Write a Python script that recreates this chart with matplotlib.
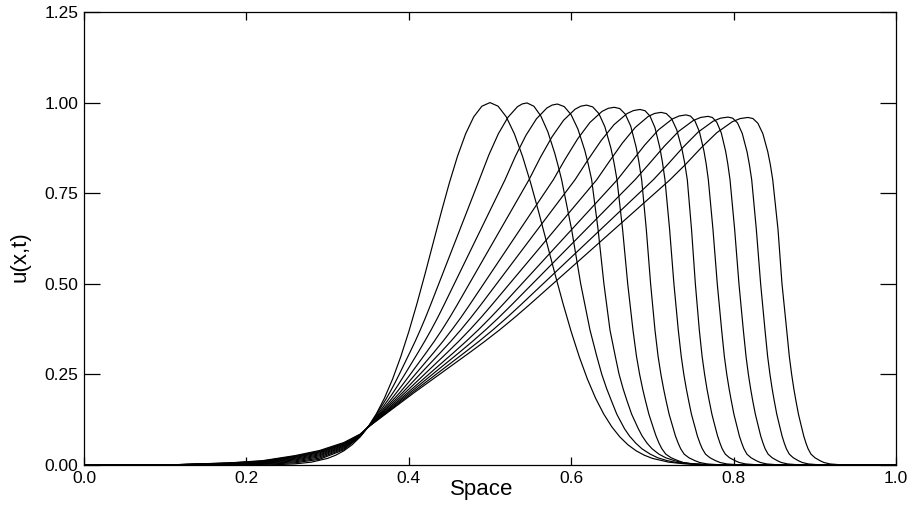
import matplotlib
matplotlib.use("Agg")
import matplotlib.pyplot as plt

# profiles u(x,t), one per output time
space_1 = [0.0, 0.10, 0.18, 0.22, 0.24, 0.26, 0.28, 0.30, 0.31, 0.32, 0.33, 0.34, 0.35, 0.36, 0.37, 0.38, 0.39, 0.40, 0.41, 0.42, 0.43, 0.44, 0.45, 0.46, 0.47, 0.48, 0.49, 0.50,
           0.51, 0.52, 0.53, 0.54, 0.55, 0.56, 0.57, 0.58, 0.59, 0.60, 0.61, 0.62, 0.63, 0.64, 0.65, 0.66, 0.67, 0.68, 0.69, 0.70, 0.72, 0.74, 0.76, 0.80, 1.0]
u_1 = [0.0, 0.0, 0.0, 0.0004, 0.0012, 0.0032, 0.0079, 0.0183, 0.0271, 0.0392, 0.0556, 0.0773, 0.1054, 0.1409, 0.1845, 0.2369, 0.2982, 0.3679, 0.4449, 0.5273, 0.6126, 0.6977, 0.7788, 0.8521, 0.9139, 0.9608, 0.9900, 1.0,
       0.9900, 0.9608, 0.9139, 0.8521, 0.7788, 0.6977, 0.6126, 0.5273, 0.4449, 0.3679, 0.2982, 0.2369, 0.1845, 0.1409, 0.1054, 0.0773, 0.0556, 0.0392, 0.0271, 0.0183, 0.0079, 0.0032, 0.0012, 0.0001, 0.0]

space_2 = [0.0, 0.10, 0.18, 0.22, 0.26, 0.29, 0.32, 0.34, 0.352, 0.3659, 0.3716, 0.3772, 0.3827, 0.3882, 0.4012, 0.4079, 0.4143, 0.4205, 0.4265, 0.4543, 0.4868,
           0.4986, 0.5103, 0.5221, 0.5338, 0.5397, 0.5456, 0.5541, 0.5626, 0.5712, 0.5797, 0.5839, 0.5882, 0.6005, 0.6117, 0.6232,
           0.6315, 0.6377, 0.6438, 0.6494, 0.6562, 0.6657, 0.6718, 0.6797, 0.6870, 0.6973, 0.7066, 0.7183, 0.7295, 0.747, 0.768, 0.82, 1.0]
u_2 = [0.0, 0.0, 0.0008, 0.0019, 0.0061, 0.0157, 0.0420, 0.0783, 0.1115, 0.16, 0.1806, 0.2025, 0.2256, 0.25, 0.31, 0.3414, 0.3735, 0.4064, 0.44, 0.60, 0.787,
       0.8556, 0.9140, 0.9593, 0.9886, 0.9963, 0.999, 0.9898, 0.9630, 0.9196, 0.8606, 0.8256, 0.787, 0.65, 0.50, 0.372,
       0.30, 0.25, 0.21, 0.178, 0.14, 0.10, 0.08, 0.06, 0.045, 0.03, 0.02, 0.012, 0.007, 0.003, 0.001, 0.0, 0.0]

space_3 = [0.0, 0.10, 0.18, 0.22, 0.26, 0.29, 0.32, 0.34, 0.352, 0.3682, 0.3748, 0.3815, 0.3882, 0.3950, 0.4113, 0.4196, 0.4277, 0.4355, 0.4430, 0.4778, 0.5185,
           0.5314, 0.5443, 0.5572, 0.5701, 0.5766, 0.583, 0.5914, 0.5999, 0.6083, 0.6168, 0.6210, 0.6252, 0.6331, 0.6403, 0.6478,
           0.6543, 0.6590, 0.6640, 0.6686, 0.6745, 0.6827, 0.6874, 0.6935, 0.6995, 0.7080, 0.7164, 0.7270, 0.7367, 0.752, 0.772, 0.81, 1.0]
u_3 = [0.0, 0.0, 0.0015, 0.0032, 0.0088, 0.0190, 0.0448, 0.0792, 0.1110, 0.16, 0.1806, 0.2025, 0.2256, 0.25, 0.31, 0.3414, 0.3735, 0.4064, 0.44, 0.60, 0.787,
       0.8524, 0.9097, 0.9552, 0.9852, 0.9932, 0.996, 0.9890, 0.9666, 0.9268, 0.8676, 0.8301, 0.787, 0.65, 0.50, 0.372,
       0.30, 0.25, 0.21, 0.178, 0.14, 0.10, 0.08, 0.06, 0.045, 0.03, 0.02, 0.012, 0.007, 0.003, 0.001, 0.0, 0.0]

space_4 = [0.0, 0.10, 0.18, 0.22, 0.26, 0.29, 0.32, 0.34, 0.352, 0.3705, 0.3781, 0.3858, 0.3937, 0.4018, 0.4214, 0.4314, 0.4410, 0.4502, 0.4591, 0.5001, 0.5480,
           0.5622, 0.5764, 0.5906, 0.6048, 0.6119, 0.619, 0.6265, 0.6340, 0.6414, 0.6489, 0.6527, 0.6564, 0.6633, 0.6696, 0.6761,
           0.6804, 0.6843, 0.6880, 0.6914, 0.6957, 0.7015, 0.7045, 0.7082, 0.7116, 0.7165, 0.7231, 0.7315, 0.7379, 0.7481, 0.7629, 0.7730, 1.0]
u_4 = [0.0, 0.0, 0.0022, 0.0046, 0.0115, 0.0223, 0.0475, 0.0801, 0.1105, 0.16, 0.1806, 0.2025, 0.2256, 0.25, 0.31, 0.3414, 0.3735, 0.4064, 0.44, 0.60, 0.787,
       0.8494, 0.9056, 0.9512, 0.9818, 0.9901, 0.993, 0.9881, 0.9699, 0.9337, 0.8743, 0.8345, 0.787, 0.65, 0.50, 0.372,
       0.30, 0.25, 0.21, 0.178, 0.14, 0.10, 0.08, 0.06, 0.045, 0.03, 0.02, 0.012, 0.007, 0.003, 0.001, 0.0, 0.0]

space_5 = [0.0, 0.10, 0.18, 0.22, 0.26, 0.29, 0.32, 0.34, 0.352, 0.3890, 0.4306, 0.4421, 0.4532, 0.4640, 0.4743, 0.5221, 0.5780,
           0.5930, 0.6080, 0.6230, 0.6380, 0.6455, 0.653, 0.6598, 0.6665, 0.6733, 0.6800, 0.6834, 0.6868, 0.6925, 0.6978, 0.7032,
           0.7070, 0.7105, 0.7138, 0.7168, 0.7206, 0.7258, 0.7284, 0.7318, 0.7348, 0.7391, 0.7450, 0.7524, 0.7582, 0.7672, 0.7804, 0.7894, 1.0]
u_5 = [0.0, 0.0, 0.0028, 0.0059, 0.0140, 0.0254, 0.0500, 0.0809, 0.1101, 0.20, 0.31, 0.3414, 0.3735, 0.4064, 0.44, 0.60, 0.787,
       0.8456, 0.9000, 0.9450, 0.9757, 0.9841, 0.987, 0.9835, 0.9684, 0.9352, 0.8769, 0.8363, 0.787, 0.65, 0.50, 0.372,
       0.30, 0.25, 0.21, 0.178, 0.14, 0.10, 0.08, 0.06, 0.045, 0.03, 0.02, 0.012, 0.007, 0.003, 0.001, 0.0, 0.0]

space_6 = [0.0, 0.10, 0.18, 0.22, 0.26, 0.29, 0.32, 0.34, 0.352, 0.3924, 0.4389, 0.4518, 0.4643, 0.4763, 0.4880, 0.5418, 0.6047,
           0.6207, 0.6367, 0.6527, 0.6687, 0.6767, 0.6847, 0.6909, 0.6970, 0.7032, 0.7093, 0.7124, 0.7155, 0.7212, 0.7265, 0.7319,
           0.7355, 0.7387, 0.7418, 0.7446, 0.7481, 0.7530, 0.7554, 0.7586, 0.7614, 0.7654, 0.7709, 0.7778, 0.7832, 0.7916, 0.8039, 0.8123, 1.0]
u_6 = [0.0, 0.0, 0.0034, 0.0070, 0.0163, 0.0281, 0.0523, 0.0817, 0.1097, 0.20, 0.31, 0.3414, 0.3735, 0.4064, 0.44, 0.60, 0.787,
       0.8422, 0.8947, 0.9390, 0.9696, 0.9780, 0.981, 0.9776, 0.9630, 0.9307, 0.8742, 0.8349, 0.787, 0.65, 0.50, 0.372,
       0.30, 0.25, 0.21, 0.178, 0.14, 0.10, 0.08, 0.06, 0.045, 0.03, 0.02, 0.012, 0.007, 0.003, 0.001, 0.0, 0.0]

space_7 = [0.0, 0.10, 0.18, 0.22, 0.26, 0.29, 0.32, 0.34, 0.352, 0.3957, 0.4472, 0.4615, 0.4753, 0.4887, 0.5016, 0.5615, 0.6314,
           0.6472, 0.6631, 0.6789, 0.6948, 0.7027, 0.7106, 0.7171, 0.7236, 0.7300, 0.7365, 0.7398, 0.7430, 0.7482, 0.7529, 0.7578,
           0.7612, 0.7643, 0.7672, 0.7699, 0.7733, 0.7779, 0.7803, 0.7833, 0.7859, 0.7898, 0.7950, 0.8017, 0.8068, 0.8148, 0.8266, 0.8346, 1.0]
u_7 = [0.0, 0.0, 0.0040, 0.0082, 0.0185, 0.0309, 0.0545, 0.0825, 0.1093, 0.20, 0.31, 0.3414, 0.3735, 0.4064, 0.44, 0.60, 0.787,
       0.8383, 0.8885, 0.9315, 0.9617, 0.9700, 0.973, 0.9697, 0.9557, 0.9248, 0.8706, 0.8329, 0.787, 0.65, 0.50, 0.372,
       0.30, 0.25, 0.21, 0.178, 0.14, 0.10, 0.08, 0.06, 0.045, 0.03, 0.02, 0.012, 0.007, 0.003, 0.001, 0.0, 0.0]

space_8 = [0.0, 0.10, 0.18, 0.22, 0.26, 0.29, 0.32, 0.34, 0.352, 0.3989, 0.4551, 0.4707, 0.4859, 0.5005, 0.5147, 0.5802, 0.6568,
           0.6737, 0.6906, 0.7076, 0.7245, 0.7329, 0.7414, 0.7469, 0.7524, 0.7579, 0.7634, 0.7662, 0.7689, 0.7746, 0.7799, 0.7853,
           0.7886, 0.7916, 0.7945, 0.7971, 0.8004, 0.8049, 0.8071, 0.8101, 0.8127, 0.8164, 0.8215, 0.8279, 0.8329, 0.8407, 0.8522, 0.8600, 1.0]
u_8 = [0.0, 0.0, 0.0046, 0.0093, 0.0207, 0.0335, 0.0567, 0.0832, 0.1089, 0.20, 0.31, 0.3414, 0.3735, 0.4064, 0.44, 0.60, 0.787,
       0.8349, 0.8830, 0.9250, 0.9547, 0.9630, 0.966, 0.9628, 0.9494, 0.9196, 0.8675, 0.8312, 0.787, 0.65, 0.50, 0.372,
       0.30, 0.25, 0.21, 0.178, 0.14, 0.10, 0.08, 0.06, 0.045, 0.03, 0.02, 0.012, 0.007, 0.003, 0.001, 0.0, 0.0]

space_9 = [0.0, 0.10, 0.18, 0.22, 0.26, 0.29, 0.32, 0.34, 0.352, 0.4016, 0.4619, 0.4786, 0.4949, 0.5106, 0.5258, 0.5963, 0.6786,
           0.6966, 0.7146, 0.7325, 0.7505, 0.7595, 0.7685, 0.7739, 0.7793, 0.7848, 0.7902, 0.7929, 0.7956, 0.8013, 0.8066, 0.8120,
           0.8153, 0.8182, 0.8210, 0.8235, 0.8268, 0.8312, 0.8334, 0.8363, 0.8388, 0.8425, 0.8475, 0.8538, 0.8587, 0.8664, 0.8776, 0.8852, 1.0]
u_9 = [0.0, 0.0, 0.0051, 0.0102, 0.0225, 0.0357, 0.0585, 0.0838, 0.1086, 0.20, 0.31, 0.3414, 0.3735, 0.4064, 0.44, 0.60, 0.787,
       0.8326, 0.8795, 0.9210, 0.9507, 0.9590, 0.962, 0.9589, 0.9458, 0.9166, 0.8657, 0.8302, 0.787, 0.65, 0.50, 0.372,
       0.30, 0.25, 0.21, 0.178, 0.14, 0.10, 0.08, 0.06, 0.045, 0.03, 0.02, 0.012, 0.007, 0.003, 0.001, 0.0, 0.0]

space_10 = [0.0, 0.10, 0.18, 0.22, 0.26, 0.29, 0.32, 0.34, 0.352, 0.4043, 0.4686, 0.4865, 0.5039, 0.5207, 0.5370, 0.6127, 0.7011,
            0.7195, 0.7379, 0.7563, 0.7747, 0.7839, 0.7931, 0.7989, 0.8048, 0.8106, 0.8165, 0.8194, 0.8223, 0.8280, 0.8333, 0.8387,
            0.8419, 0.8448, 0.8475, 0.8500, 0.8532, 0.8575, 0.8597, 0.8625, 0.8650, 0.8686, 0.8735, 0.8797, 0.8845, 0.8920, 0.9030, 0.9105, 1.0]
u_10 = [0.0, 0.0, 0.0056, 0.0111, 0.0243, 0.0379, 0.0603, 0.0844, 0.1083, 0.20, 0.31, 0.3414, 0.3735, 0.4064, 0.44, 0.60, 0.787,
        0.8309, 0.8770, 0.9185, 0.9485, 0.9570, 0.960, 0.9570, 0.9439, 0.9152, 0.8648, 0.8297, 0.787, 0.65, 0.50, 0.372,
        0.30, 0.25, 0.21, 0.178, 0.14, 0.10, 0.08, 0.06, 0.045, 0.03, 0.02, 0.012, 0.007, 0.003, 0.001, 0.0, 0.0]

space_11 = [0.0, 0.10, 0.18, 0.22, 0.26, 0.29, 0.32, 0.34, 0.352, 0.4068, 0.4748, 0.4937, 0.5122, 0.5300, 0.5474, 0.6278, 0.7217,
            0.7409, 0.7601, 0.7793, 0.7985, 0.8081, 0.8177, 0.8238, 0.8299, 0.8360, 0.8421, 0.8452, 0.8482, 0.8547, 0.8596, 0.8654,
            0.8686, 0.8715, 0.8742, 0.8767, 0.8799, 0.8842, 0.8864, 0.8892, 0.8917, 0.8953, 0.9002, 0.9064, 0.9112, 0.9187, 0.9297, 0.9372, 1.0]
u_11 = [0.0, 0.0, 0.006, 0.012, 0.026, 0.040, 0.062, 0.085, 0.108, 0.20, 0.31, 0.3414, 0.3735, 0.4064, 0.44, 0.60, 0.787,
        0.8296, 0.8753, 0.9169, 0.9473, 0.9559, 0.959, 0.9560, 0.9430, 0.9144, 0.8643, 0.8294, 0.787, 0.65, 0.50, 0.372,
        0.30, 0.25, 0.21, 0.178, 0.14, 0.10, 0.08, 0.06, 0.045, 0.03, 0.02, 0.012, 0.007, 0.003, 0.001, 0.0, 0.0]

x_ticks = [0.0, 0.2, 0.4, 0.6, 0.8, 1.0]
x_tick_labels = ["0.0", "0.2", "0.4", "0.6", "0.8", "1.0"]
y_ticks = [0.0, 0.25, 0.5, 0.75, 1.0, 1.25]
y_tick_labels = ["0.00", "0.25", "0.50", "0.75", "1.00", "1.25"]

profiles = [
    (space_1, u_1), (space_2, u_2), (space_3, u_3), (space_4, u_4),
    (space_5, u_5), (space_6, u_6), (space_7, u_7), (space_8, u_8),
    (space_9, u_9), (space_10, u_10), (space_11, u_11),
]

plt.rcParams["font.family"] = ["Liberation Sans", "DejaVu Sans"]

fig = plt.figure(figsize=(9.14, 5.14), dpi=100)
ax = fig.add_axes([0.0919, 0.0953, 0.8884, 0.8814])

for xs, us in profiles:
    ax.plot(xs, us, color="black", lw=0.85, solid_joinstyle="round")

ax.set_xlim(0.0, 1.0)
ax.set_ylim(0.0, 1.25)
ax.set_xticks(x_ticks)
ax.set_xticklabels(x_tick_labels)
ax.set_yticks(y_ticks)
ax.set_yticklabels(y_tick_labels)

ax.tick_params(axis="y", direction="in", length=11.5, width=0.9,
               left=True, right=True, labelsize=12.5, pad=4)
ax.tick_params(axis="x", direction="in", length=5.5, width=0.9,
               bottom=True, top=True, labelsize=12.5, pad=4)
for spine in ax.spines.values():
    spine.set_linewidth(0.9)

ax.set_xlabel("Space", fontsize=16)
ax.xaxis.set_label_coords(0.49, -0.03)
ax.set_ylabel("u(x,t)", fontsize=16)
ax.yaxis.set_label_coords(-0.066, 0.46)

fig.savefig("out.png", dpi=100)
